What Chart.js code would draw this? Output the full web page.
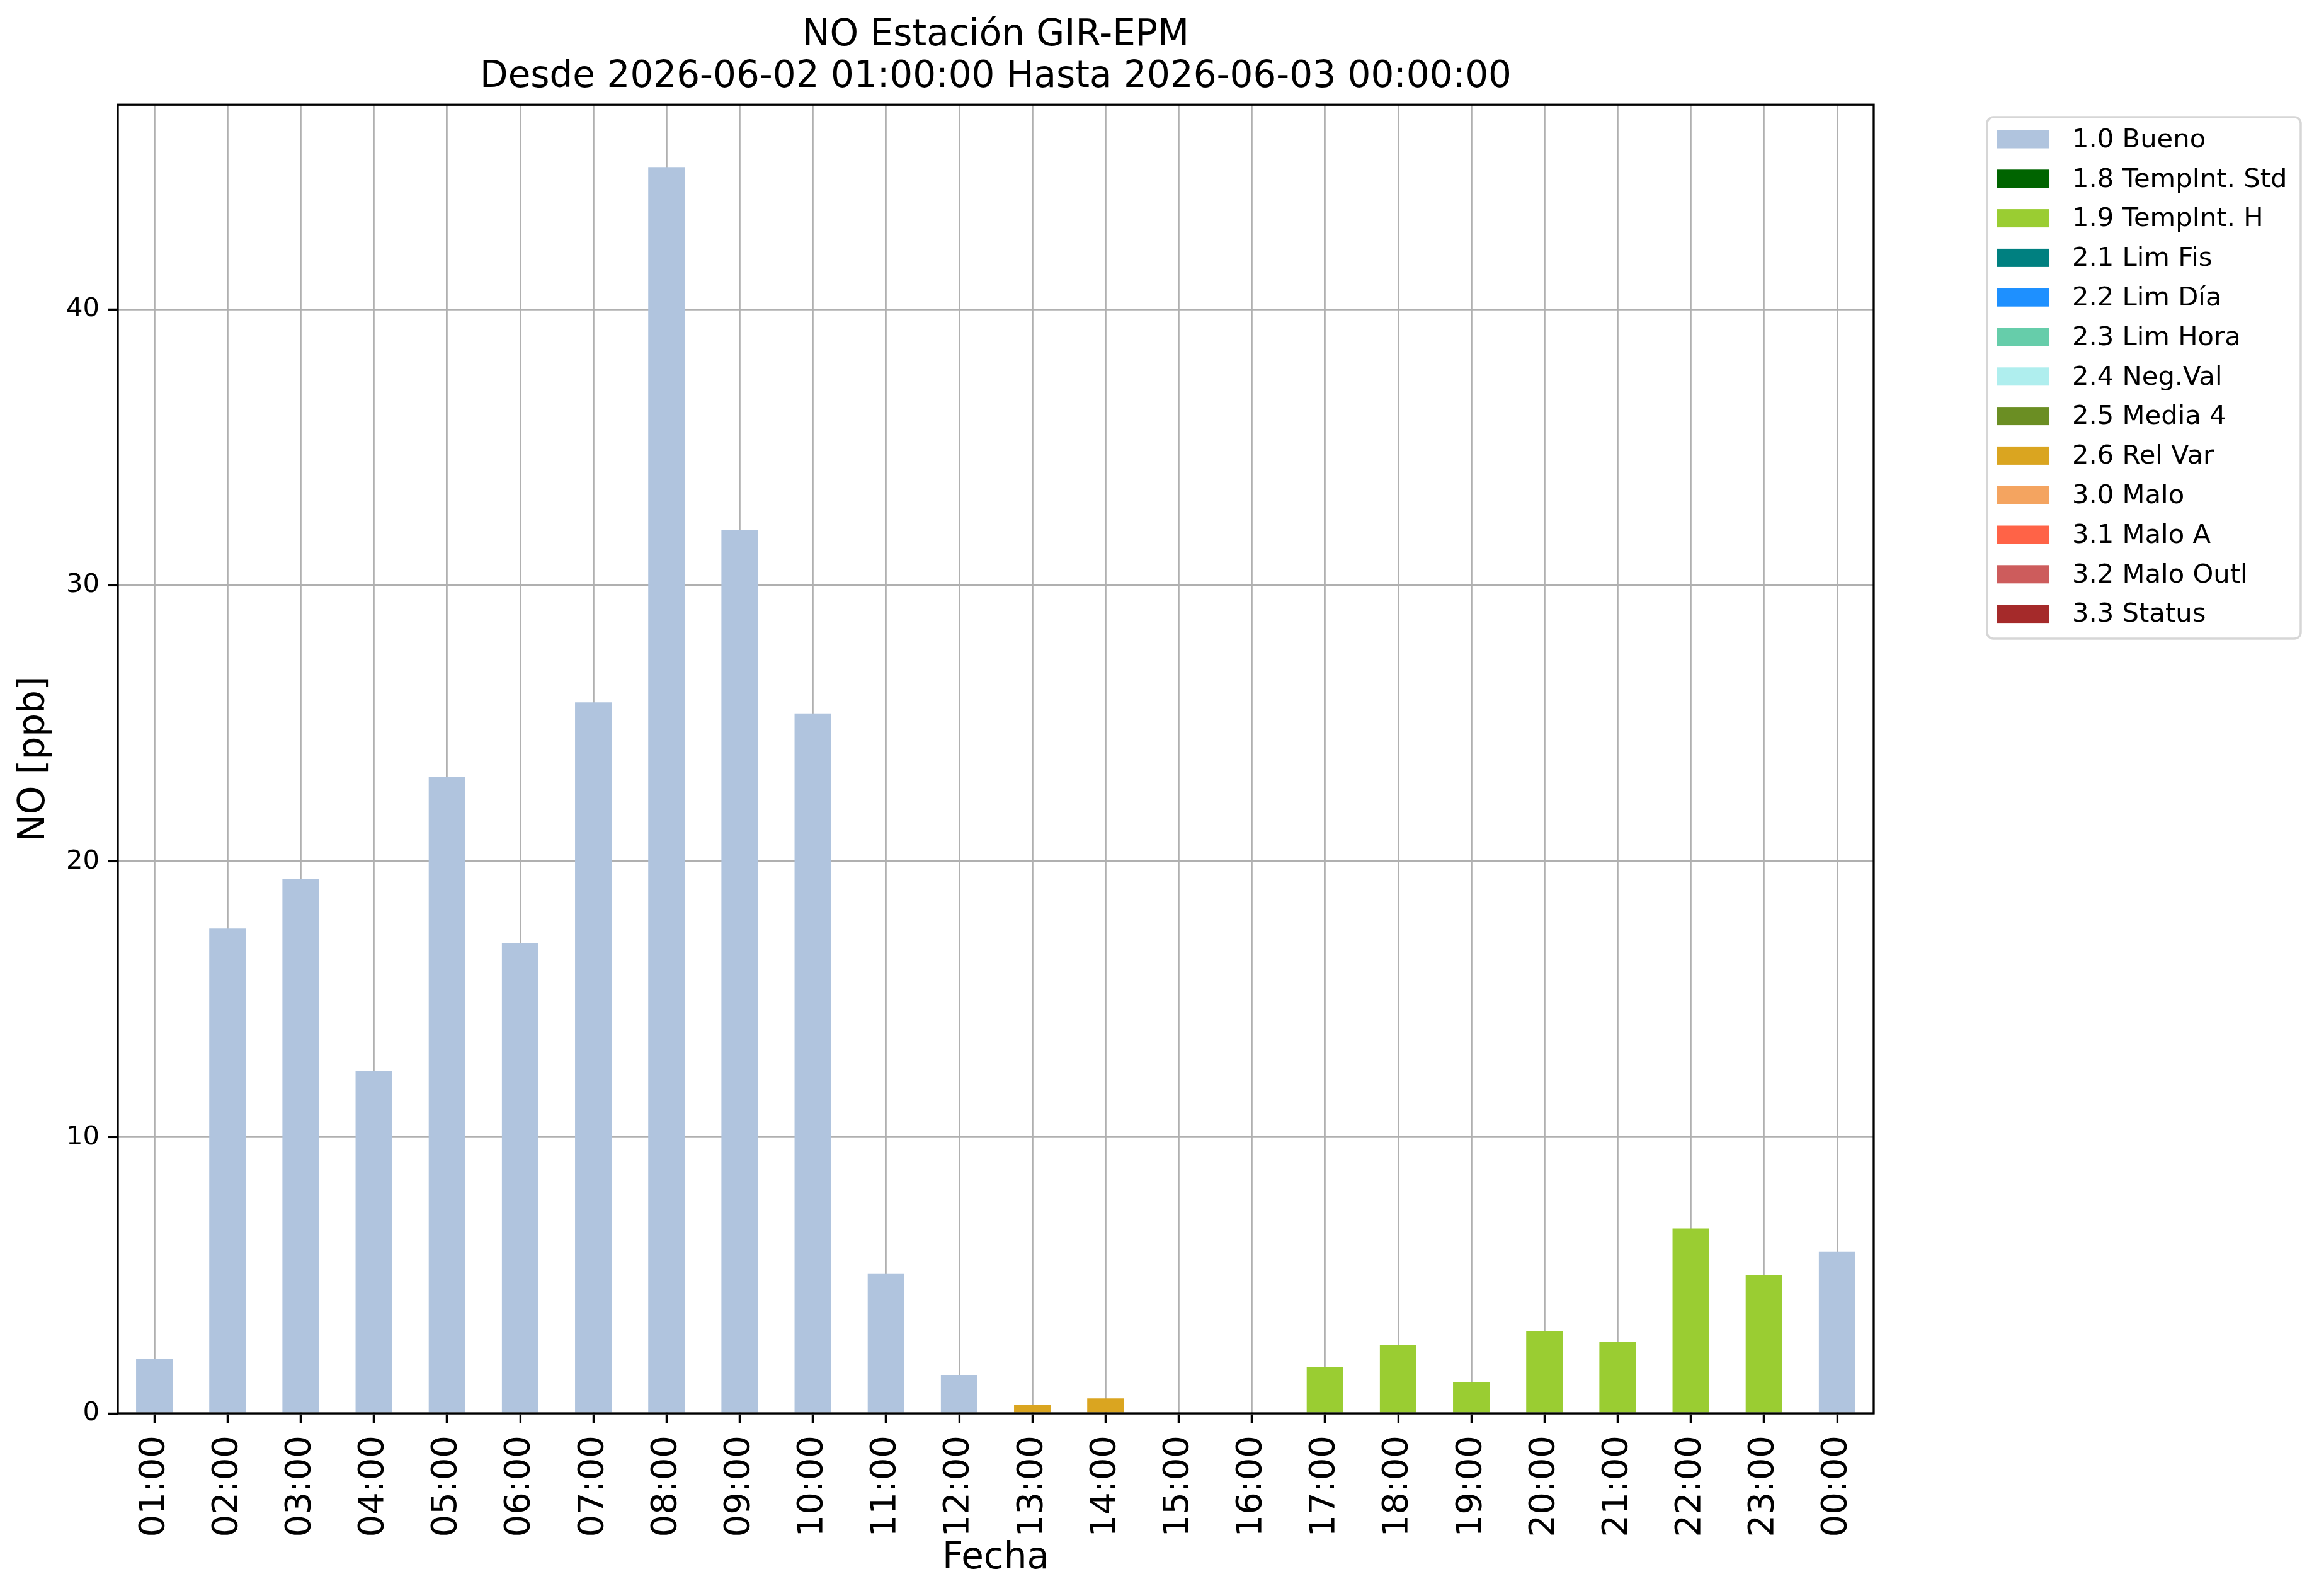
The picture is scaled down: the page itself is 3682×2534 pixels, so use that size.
<!DOCTYPE html>
<html>
<head>
<meta charset="utf-8">
<title>NO Estación GIR-EPM</title>
<script src="https://cdn.jsdelivr.net/npm/chart.js@4.4.1/dist/chart.umd.min.js"></script>
<style>
	html, body { margin: 0; padding: 0; background: #ffffff; }
	#wrap { width: 3682px; height: 2534px; }
</style>
</head>
<body>
<div id="wrap"><canvas id="barChart" width="3682" height="2534"></canvas></div>
<script>
var hours = ["01:00", "02:00", "03:00", "04:00", "05:00", "06:00", "07:00", "08:00", "09:00", "10:00", "11:00", "12:00",
	"13:00", "14:00", "15:00", "16:00", "17:00", "18:00", "19:00", "20:00", "21:00", "22:00", "23:00", "00:00"];
var values = [1.96, 17.57, 19.37, 12.41, 23.07, 17.05, 25.76, 45.16, 32.02, 25.36, 5.07, 1.39,
	0.31, 0.54, null, null, 1.67, 2.47, 1.13, 2.97, 2.58, 6.70, 5.02, 5.85];
var flags = ["1.0", "1.0", "1.0", "1.0", "1.0", "1.0", "1.0", "1.0", "1.0", "1.0", "1.0", "1.0",
	"2.6", "2.6", "1.0", "1.0", "1.9", "1.9", "1.9", "1.9", "1.9", "1.9", "1.9", "1.0"];
var flagCodes = ["1.0", "1.8", "1.9", "2.1", "2.2", "2.3", "2.4", "2.5", "2.6", "3.0", "3.1", "3.2", "3.3"];
var flagNames = ["1.0 Bueno", "1.8 TempInt. Std", "1.9 TempInt. H", "2.1 Lim Fis", "2.2 Lim Día", "2.3 Lim Hora",
	"2.4 Neg.Val", "2.5 Media 4", "2.6 Rel Var", "3.0 Malo", "3.1 Malo A", "3.2 Malo Outl", "3.3 Status"];
var flagColors = ["#B0C4DE", "#006400", "#9ACD32", "#008080", "#1E90FF", "#66CDAA",
	"#AFEEEE", "#6B8E23", "#DAA520", "#F4A460", "#FF6347", "#CD5C5C", "#A52A2A"];
var yTicks = [0, 10, 20, 30, 40];
var yMax = 47.42;

var FONT = "'DejaVu Sans', 'Liberation Sans', sans-serif";

var datasets = [];
for (var c = 0; c < flagCodes.length; c++) {
	datasets.push({
		label: flagNames[c],
		backgroundColor: flagColors[c],
		borderWidth: 0,
		data: values.map(function (v, i) {
			return flags[i] === flagCodes[c] ? v : null;
		})
	});
}

// white page, axes frame and matplotlib-like legend
var paperPlugin = {
	id: "paper",
	beforeDraw: function (chart) {
		var ctx = chart.ctx;
		ctx.save();
		ctx.fillStyle = "#ffffff";
		ctx.fillRect(0, 0, chart.width, chart.height);
		ctx.restore();
	},
	afterDraw: function (chart) {
		var ctx = chart.ctx;
		var a = chart.chartArea;
		ctx.save();
		ctx.strokeStyle = "#000000";
		ctx.lineWidth = 3.3;
		ctx.strokeRect(a.left, a.top, a.right - a.left, a.bottom - a.top);

		var bx = 3155, by = 186, bw = 498, bh = 828, r = 10;
		ctx.beginPath();
		ctx.moveTo(bx + r, by);
		ctx.arcTo(bx + bw, by, bx + bw, by + bh, r);
		ctx.arcTo(bx + bw, by + bh, bx, by + bh, r);
		ctx.arcTo(bx, by + bh, bx, by, r);
		ctx.arcTo(bx, by, bx + bw, by, r);
		ctx.closePath();
		ctx.fillStyle = "rgba(255,255,255,0.8)";
		ctx.fill();
		ctx.strokeStyle = "#d6d6d6";
		ctx.lineWidth = 3.5;
		ctx.stroke();

		ctx.font = "41.7px " + FONT;
		ctx.textBaseline = "middle";
		ctx.textAlign = "left";
		chart.data.datasets.forEach(function (ds, i) {
			var cy = 221 + i * 62.8;
			ctx.fillStyle = ds.backgroundColor;
			ctx.fillRect(3171, cy - 14.5, 83, 29);
			ctx.fillStyle = "#000000";
			ctx.fillText(ds.label, 3290, cy + 2);
		});
		ctx.restore();
	}
};

var ctx = document.getElementById("barChart").getContext("2d");
var myChart = new Chart(ctx, {
	type: "bar",
	data: {
		labels: hours,
		datasets: datasets
	},
	options: {
		responsive: false,
		animation: false,
		devicePixelRatio: 1,
		layout: {
			padding: { left: 0, right: 707, top: 0, bottom: 0 }
		},
		datasets: {
			bar: { barPercentage: 0.5, categoryPercentage: 1.0 }
		},
		plugins: {
			legend: { display: false },
			tooltip: { enabled: false },
			title: {
				display: true,
				fullSize: false,
				text: ["NO Estación GIR-EPM", "Desde 2026-06-02 01:00:00 Hasta 2026-06-03 00:00:00"],
				color: "#000000",
				font: { family: FONT, size: 58, weight: "normal", lineHeight: 1.14 },
				padding: { top: 24, bottom: 10 }
			}
		},
		scales: {
			x: {
				stacked: true,
				offset: true,
				z: 1,
				border: { display: false },
				grid: {
					offset: false,
					color: "#b0b0b0",
					lineWidth: 2.8,
					drawTicks: true,
					tickLength: 15,
					tickColor: "#000000",
					tickWidth: 3.3
				},
				ticks: {
					autoSkip: false,
					minRotation: 90,
					maxRotation: 90,
					padding: 20,
					color: "#000000",
					font: { family: FONT, size: 56 }
				},
				title: {
					display: true,
					text: "Fecha",
					color: "#000000",
					font: { family: FONT, size: 58 },
					padding: { top: 0, bottom: 24 }
				},
				afterFit: function (scale) {
					scale.height = 290;
					scale.paddingLeft = 0;
					scale.paddingRight = 0;
				}
			},
			y: {
				stacked: true,
				min: 0,
				max: yMax,
				z: 1,
				border: { display: false },
				grid: {
					color: "#b0b0b0",
					lineWidth: 2.8,
					drawTicks: true,
					tickLength: 15,
					tickColor: "#000000",
					tickWidth: 3.3
				},
				ticks: {
					padding: 14,
					color: "#000000",
					font: { family: FONT, size: 41.7 }
				},
				afterBuildTicks: function (scale) {
					scale.ticks = yTicks.map(function (v) { return { value: v }; });
				},
				title: {
					display: true,
					text: "NO [ppb]",
					color: "#000000",
					font: { family: FONT, size: 58 },
					padding: { top: 20, bottom: 0 }
				},
				afterFit: function (scale) {
					scale.width = 187;
					scale.paddingTop = 0;
					scale.paddingBottom = 0;
				}
			}
		}
	},
	plugins: [paperPlugin]
});
</script>
</body>
</html>
